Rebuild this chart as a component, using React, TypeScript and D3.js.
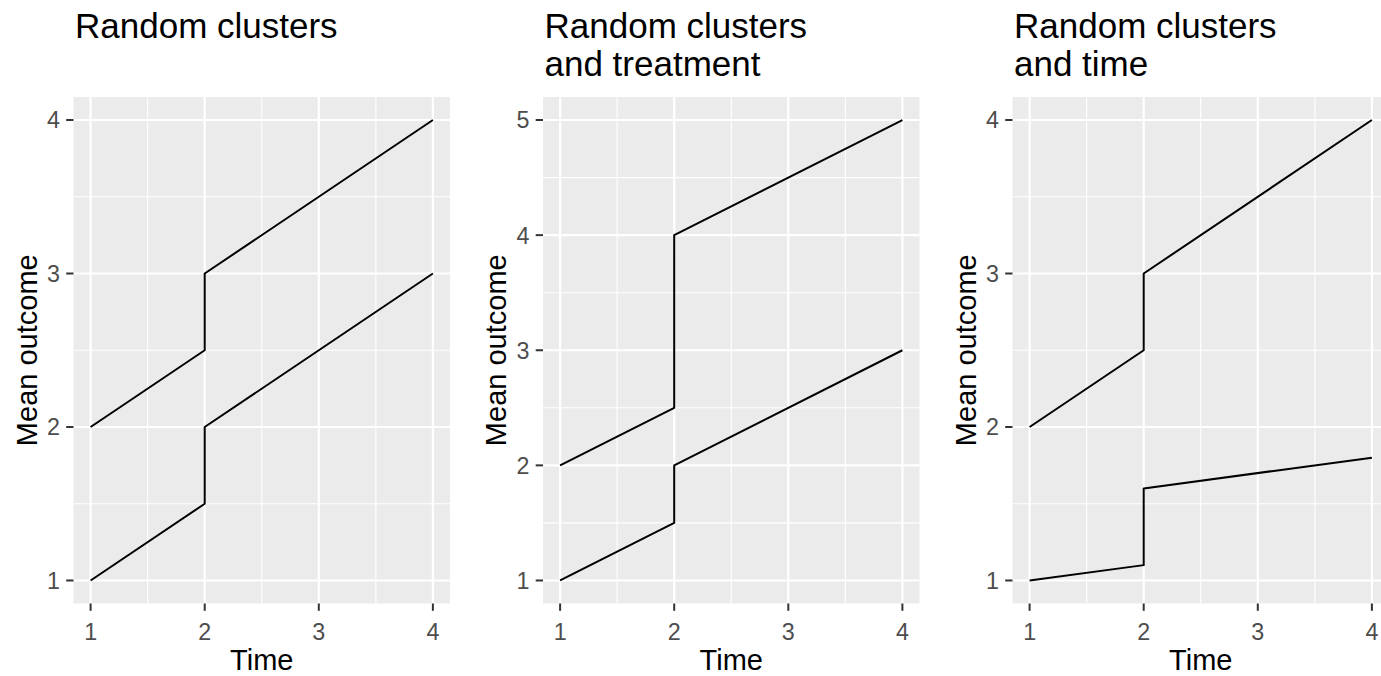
import React from "react";
import * as d3 from "d3";

const times = [1, 2, 2, 4];
const xTicks = [1, 2, 3, 4];

const panel1Upper = [2, 2.5, 3, 4];
const panel1Lower = [1, 1.5, 2, 3];
const panel2Upper = [2, 2.5, 4, 5];
const panel2Lower = [1, 1.5, 2, 3];
const panel3Upper = [2, 2.5, 3, 4];
const panel3Lower = [1, 1.1, 1.6, 1.8];

const yTicks1 = [1, 2, 3, 4];
const yTicks2 = [1, 2, 3, 4, 5];
const yTicks3 = [1, 2, 3, 4];

const titles = [
  ["Random clusters"],
  ["Random clusters", "and treatment"],
  ["Random clusters", "and time"],
];

const xLabel = "Time";
const yLabel = "Mean outcome";

const W = 1381;
const H = 676;
const FONT = "'Liberation Sans', Arial, Helvetica, sans-serif";

const PANEL_W = 376.5;
const PANEL_LEFTS = [73.5, 543, 1012.5];
const PANEL_TOP = 97;
const PANEL_BOTTOM = 603.5;

type PanelSpec = {
  upper: number[];
  lower: number[];
  yTicks: number[];
  title: string[];
  left: number;
};

const panels: PanelSpec[] = [
  { upper: panel1Upper, lower: panel1Lower, yTicks: yTicks1, title: titles[0], left: PANEL_LEFTS[0] },
  { upper: panel2Upper, lower: panel2Lower, yTicks: yTicks2, title: titles[1], left: PANEL_LEFTS[1] },
  { upper: panel3Upper, lower: panel3Lower, yTicks: yTicks3, title: titles[2], left: PANEL_LEFTS[2] },
];

function expand(lo: number, hi: number): [number, number] {
  const d = (hi - lo) * 0.05;
  return [lo - d, hi + d];
}

function minors(ticks: number[]): number[] {
  const out: number[] = [];
  for (let i = 0; i < ticks.length - 1; i++) out.push((ticks[i] + ticks[i + 1]) / 2);
  return out;
}

function Panel({ p, idx }: { p: PanelSpec; idx: number }) {
  const xDom = expand(d3.min(xTicks)!, d3.max(xTicks)!);
  const allY = [...p.upper, ...p.lower];
  const yDom = expand(d3.min(allY)!, d3.max(allY)!);
  const x = d3.scaleLinear().domain(xDom).range([p.left, p.left + PANEL_W]);
  const y = d3.scaleLinear().domain(yDom).range([PANEL_BOTTOM, PANEL_TOP]);
  const line = d3
    .line<number>()
    .x((_, i) => x(times[i]))
    .y((v) => y(v));
  const xMin = minors(xTicks);
  const yMin = minors(p.yTicks);
  const clipId = `clip${idx}`;
  const cx = p.left + PANEL_W / 2;
  const cy = (PANEL_TOP + PANEL_BOTTOM) / 2;
  return (
    <g>
      <defs>
        <clipPath id={clipId}>
          <rect x={p.left} y={PANEL_TOP} width={PANEL_W} height={PANEL_BOTTOM - PANEL_TOP} />
        </clipPath>
      </defs>
      <rect x={p.left} y={PANEL_TOP} width={PANEL_W} height={PANEL_BOTTOM - PANEL_TOP} fill="#EBEBEB" />
      <g clipPath={`url(#${clipId})`}>
        {xMin.map((t) => (
          <line key={"xm" + t} x1={x(t)} x2={x(t)} y1={PANEL_TOP} y2={PANEL_BOTTOM} stroke="#fff" strokeWidth={1.1} />
        ))}
        {yMin.map((t) => (
          <line key={"ym" + t} x1={p.left} x2={p.left + PANEL_W} y1={y(t)} y2={y(t)} stroke="#fff" strokeWidth={1.1} />
        ))}
        {xTicks.map((t) => (
          <line key={"xM" + t} x1={x(t)} x2={x(t)} y1={PANEL_TOP} y2={PANEL_BOTTOM} stroke="#fff" strokeWidth={2.2} />
        ))}
        {p.yTicks.map((t) => (
          <line key={"yM" + t} x1={p.left} x2={p.left + PANEL_W} y1={y(t)} y2={y(t)} stroke="#fff" strokeWidth={2.2} />
        ))}
        <path d={line(p.upper)!} fill="none" stroke="#000" strokeWidth={2} strokeLinejoin="round" />
        <path d={line(p.lower)!} fill="none" stroke="#000" strokeWidth={2} strokeLinejoin="round" />
      </g>
      {p.yTicks.map((t) => (
        <g key={"yt" + t}>
          <line x1={p.left - 7.3} x2={p.left} y1={y(t)} y2={y(t)} stroke="#333333" strokeWidth={2} />
          <text
            x={p.left - 13.5}
            y={y(t) + 8.4}
            textAnchor="end"
            fontFamily={FONT}
            fontSize={23.3}
            fill="#4D4D4D"
          >
            {t}
          </text>
        </g>
      ))}
      {xTicks.map((t) => (
        <g key={"xt" + t}>
          <line x1={x(t)} x2={x(t)} y1={PANEL_BOTTOM} y2={PANEL_BOTTOM + 7.3} stroke="#333333" strokeWidth={2} />
          <text x={x(t)} y={640} textAnchor="middle" fontFamily={FONT} fontSize={23.3} fill="#4D4D4D">
            {t}
          </text>
        </g>
      ))}
      <text x={cx} y={669.5} textAnchor="middle" fontFamily={FONT} fontSize={29} fill="#000">
        {xLabel}
      </text>
      <text
        transform={`translate(${p.left - 37},${cy}) rotate(-90)`}
        textAnchor="middle"
        fontFamily={FONT}
        fontSize={29}
        fill="#000"
      >
        {yLabel}
      </text>
      {p.title.map((s, i) => (
        <text key={"t" + i} x={p.left + 1.5} y={38 + i * 37.5} fontFamily={FONT} fontSize={35} fill="#000">
          {s}
        </text>
      ))}
    </g>
  );
}

export default function App() {
  return (
    <svg
      width={W}
      height={H}
      viewBox={`0 0 ${W} ${H}`}
      style={{ position: "absolute", left: 0, top: 0, background: "#fff" }}
    >
      <rect x={0} y={0} width={W} height={H} fill="#fff" />
      {panels.map((p, i) => (
        <Panel key={i} p={p} idx={i} />
      ))}
    </svg>
  );
}
